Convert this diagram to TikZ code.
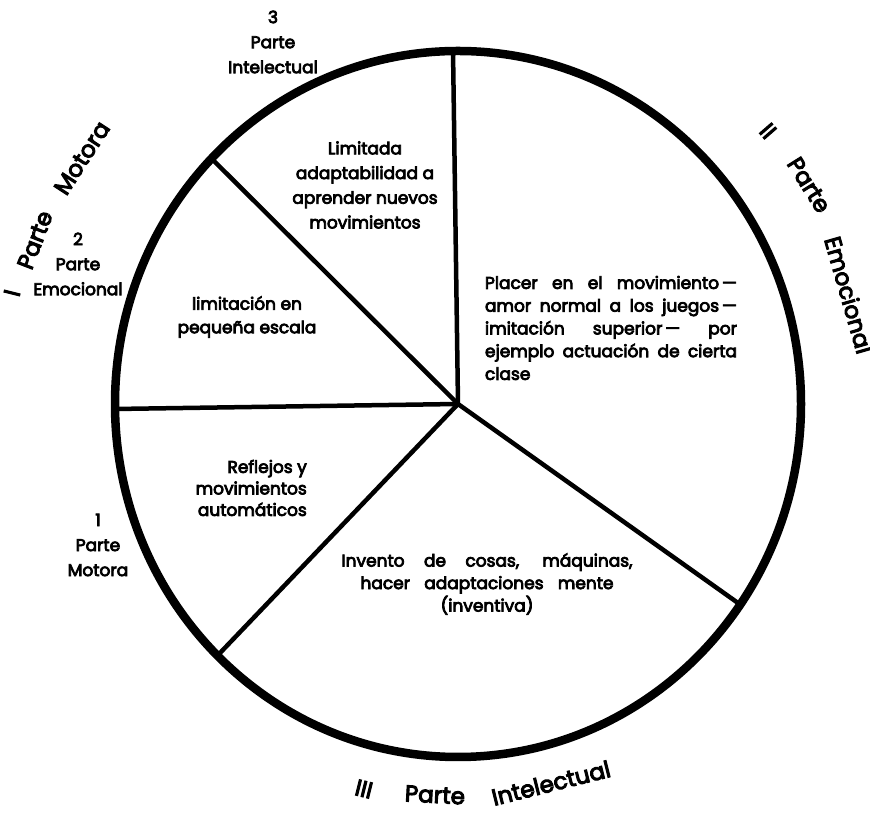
\documentclass[tikz,border=0pt]{standalone}
\usepackage{fontspec}
\newfontfamily\wheelfont{Poppins}[FakeBold=4.5]
\begin{document}
\begin{tikzpicture}[x=1pt,y=1pt,
  rim/.style={line width=8.5pt},
  spoke/.style={line width=4.5pt, line cap=round},
  inner/.style={font=\wheelfont\fontsize{17}{23.5}\selectfont, inner sep=0pt, align=center},
  tag/.style={font=\wheelfont\fontsize{17}{25}\selectfont, inner sep=0pt, align=center},
  outer/.style={font=\wheelfont\fontsize{23}{26}\selectfont, inner sep=0pt},
]
\useasboundingbox (0,0) rectangle (870,818);
% wheel outline and centre
\coordinate (C) at (458,414);
\draw[rim] (C) ellipse [x radius=343, y radius=353];
% ends of the spokes on the rim
\coordinate (top) at (453,768);
\coordinate (ul)  at (213,658);
\coordinate (lf)  at (115,409);
\coordinate (ll)  at (220,165);
\coordinate (lr)  at (738,215);
\foreach \e in {top,ul,lf,ll,lr} \draw[spoke] (C) -- (\e);

% sector texts
\node[inner, font=\wheelfont\fontsize{17}{24.7}\selectfont] (lim) at (365,633) {Limitada\\adaptabilidad a\\aprender nuevos\\movimientos};
\node[inner] (peq) at (247,501) {limitación en\\pequeña escala};
\node[inner, align=right, anchor=east, font=\wheelfont\fontsize{17}{21.5}\selectfont] (ref) at (307,330) {Reflejos y\\movimientos\\automáticos};
\node[inner, font=\wheelfont\fontsize{17}{22.5}\selectfont] (inv) at (487,234) {\makebox[291pt][s]{Invento de cosas, máquinas,}\\\makebox[253pt][s]{hacer adaptaciones mente}\\(inventiva)};
\node[inner, align=left, font=\wheelfont\fontsize{17}{22.75}\selectfont] (pla) at (611,490) {\makebox[252pt][s]{Placer en el movimiento\,—}\\\makebox[252pt][s]{amor normal a los juegos\,—}\\\makebox[252pt][s]{imitación superior\,— por}\\\makebox[252pt][s]{ejemplo actuación de cierta}\\clase};

% sub-part tags
\node[tag] (t3) at (273,776) {3\\Parte\\Intelectual};
\node[tag] (t2) at (78,554) {2\\Parte\\Emocional};
\node[tag] (t1) at (98,273) {1\\Parte\\Motora};

% main part labels around the rim
\node[outer, rotate=76] (m1) at (12,525) {I};
\node[outer, rotate=69] (m2) at (35,578) {Parte};
\node[outer, rotate=57] (m3) at (82,660) {Motora};
\node[outer, rotate=-49] (e1) at (768,687) {II};
\node[outer, rotate=-58] (e2) at (809,633) {Parte};
\node[outer, rotate=-74] (e3) at (849,523) {Emocional};
\node[outer, rotate=-14] (i1) at (364,29) {III};
\node[outer, rotate=-3] (i2) at (435,23) {Parte};
\node[outer, rotate=14] (i3) at (551,35) {Intelectual};
\end{tikzpicture}
\end{document}
